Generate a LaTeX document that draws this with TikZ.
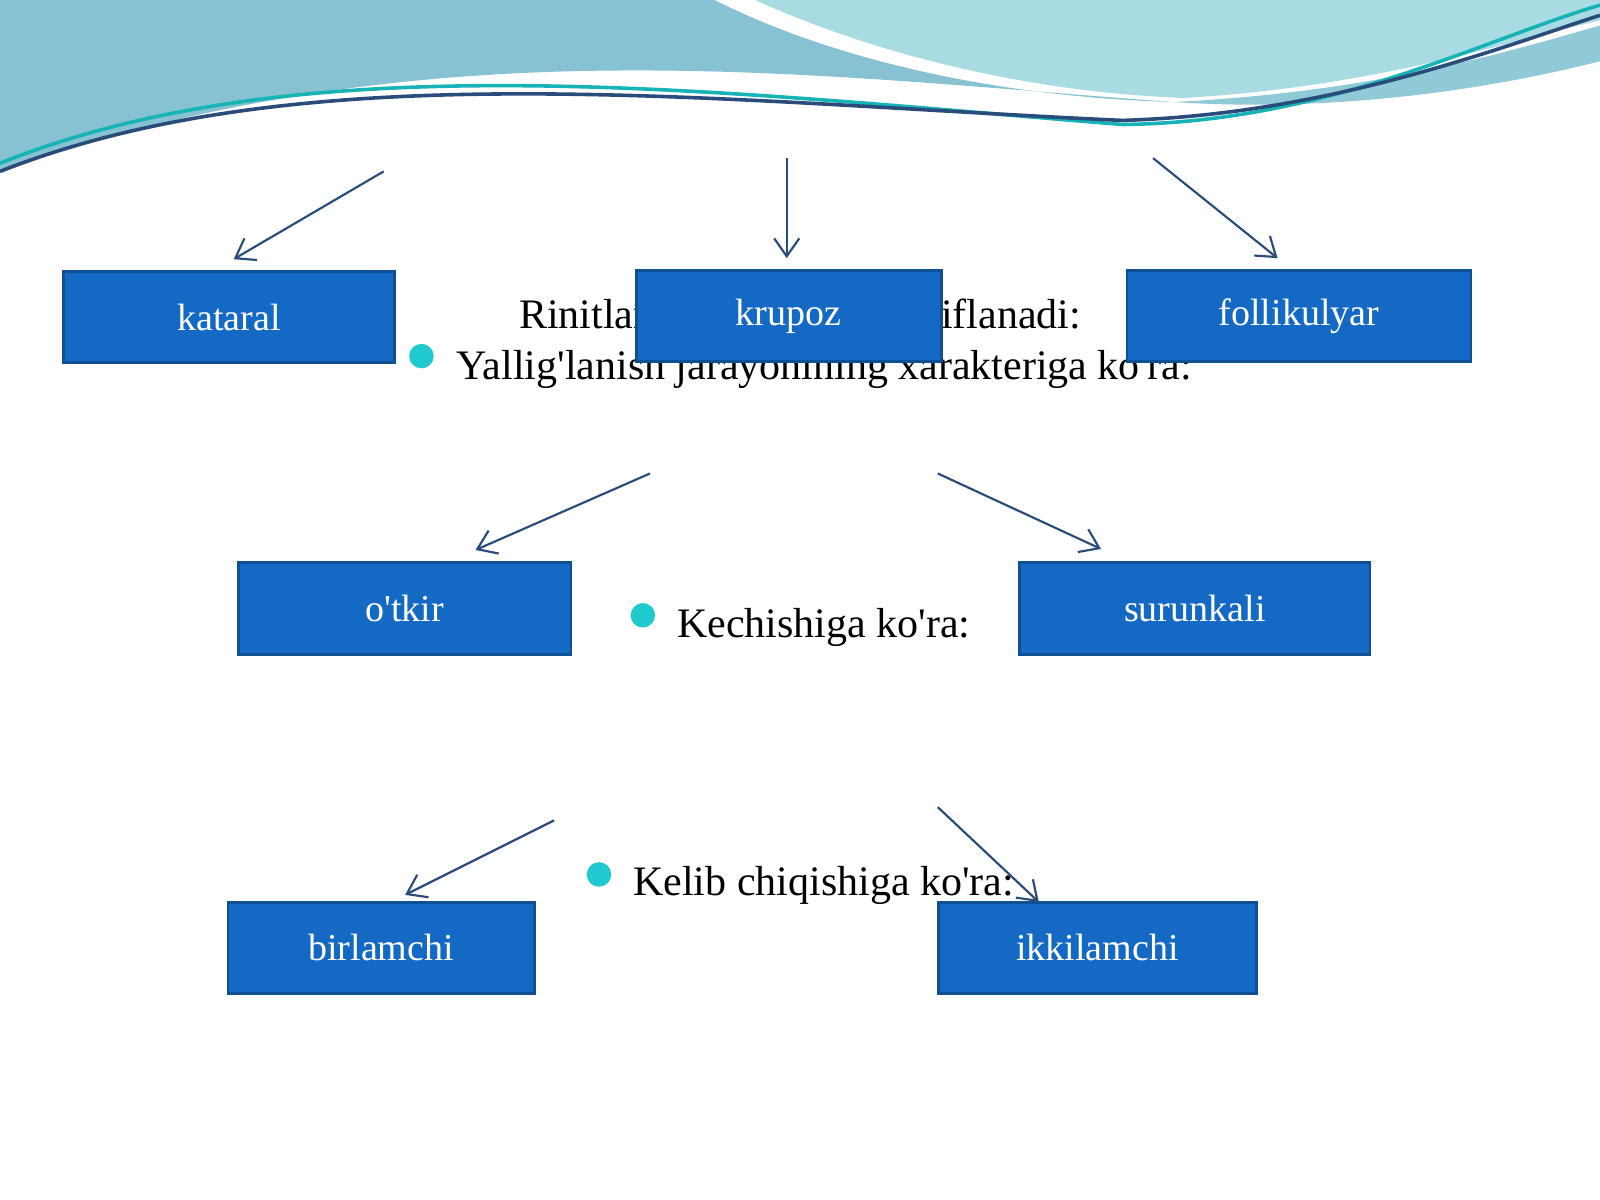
\documentclass[tikz,border=0pt]{standalone}
\usepackage{fontspec}
\setmainfont{Liberation Serif}
\usetikzlibrary{arrows.meta}
\definecolor{boxblue}{HTML}{1469C4}
\definecolor{boxedge}{HTML}{0F4F94}
\definecolor{wavedark}{HTML}{86C2D2}
\definecolor{wavelight}{HTML}{A9DCE2}
\definecolor{dotcyan}{HTML}{1FC9CF}
\definecolor{arrowblue}{HTML}{2A4C7A}
\newcommand\q{\textquotesingle}
\tikzset{
  kind/.style={draw=boxedge, line width=0.8pt, fill=boxblue, text=white, font=\fontsize{10.6}{13}\selectfont, inner sep=0pt, anchor=north west},
  head/.style={font=\fontsize{11.7}{14}\selectfont, anchor=base west, inner sep=0pt},
  pointer/.style={draw=arrowblue, line width=0.6pt, -{Straight Barb[length=5pt,width=7pt]}},
  dot/.style={circle, fill=dotcyan, minimum size=0.24cm, inner sep=0pt}
}
\begin{document}
\begin{tikzpicture}[x=0.01cm, y=-0.01cm]
\useasboundingbox (0,0) rectangle (1568,1176);
\fill[white] (0,0) rectangle (1568,1176);
% top wave
\fill[wavedark] (0,0) -- (700,0) .. controls (820,60) and (980,95) .. (1150,100)
  .. controls (800,75) and (420,20) .. (0,168) -- cycle;
\fill[wavelight] (740,0) .. controls (850,50) and (1000,90) .. (1160,96)
  .. controls (1350,85) and (1480,40) .. (1568,20) -- (1568,0) -- cycle;
\fill[wavedark!70!wavelight] (1150,100) .. controls (1350,90) and (1480,50) .. (1568,25) -- (1568,60) .. controls (1450,90) and (1300,110) .. (1150,100) -- cycle;
\draw[dotcyan!70!teal, line width=1pt] (0,160) .. controls (300,40) and (700,90) .. (1100,122) .. controls (1300,120) and (1450,40) .. (1568,5);
\draw[arrowblue, line width=1pt] (0,168) .. controls (300,50) and (700,100) .. (1100,118) .. controls (1300,112) and (1460,50) .. (1568,15);
% texts
\node[head] (title) at (508,322) {Rinitlar quyidagicha tasniflanadi:};
\node[dot] (d1) at (413,349) {};
\node[head] (t1) at (447,372) {Yallig\q lanish jarayonining xarakteriga ko\q ra:};
\node[dot] (d2) at (630,603) {};
\node[head] (t2) at (663,625) {Kechishiga ko\q ra:};
\node[dot] (d3) at (587,857) {};
\node[head] (t3) at (620,878) {Kelib chiqishiga ko\q ra:};
% boxes
\node[kind, minimum width=3.24cm, minimum height=0.89cm] (kataral) at (61,265) {kataral};
\node[kind, minimum width=2.99cm, minimum height=0.89cm] (krupoz) at (622,264) {krupoz};
\node[kind, minimum width=3.37cm, minimum height=0.89cm] (follikulyar) at (1103,264) {follikulyar};
\node[kind, minimum width=3.26cm, minimum height=0.90cm] (otkir) at (232,550) {o\q tkir};
\node[kind, minimum width=3.43cm, minimum height=0.90cm] (surunkali) at (998,550) {surunkali};
\node[kind, minimum width=3.00cm, minimum height=0.89cm] (birlamchi) at (222,883) {birlamchi};
\node[kind, minimum width=3.12cm, minimum height=0.89cm] (ikkilamchi) at (918,883) {ikkilamchi};
% arrow ends
\coordinate (a1) at (376,168); \coordinate (b1) at (229,254);
\coordinate (a2) at (771,155); \coordinate (b2) at (771,253);
\coordinate (a3) at (1130,155); \coordinate (b3) at (1252,253);
\coordinate (a4) at (637,464); \coordinate (b4) at (466,539);
\coordinate (a5) at (919,464); \coordinate (b5) at (1079,538);
\coordinate (a6) at (543,804); \coordinate (b6) at (397,877);
\coordinate (a7) at (919,791); \coordinate (b7) at (1018,884);
\foreach \i in {1,...,7}
  \draw[pointer] (a\i) -- (b\i);
\end{tikzpicture}
\end{document}
